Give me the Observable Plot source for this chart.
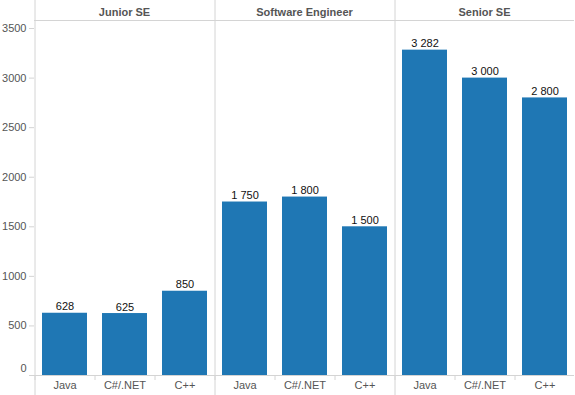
<!DOCTYPE html>
<html><head><meta charset="utf-8">
<script src="https://cdn.jsdelivr.net/npm/d3@7"></script>
<script src="https://cdn.jsdelivr.net/npm/@observablehq/plot@0.6"></script>
<style>body{margin:0;background:#fff}</style>
</head><body><div id="chart"></div>
<script>
const groups = ["Junior SE", "Software Engineer", "Senior SE"];
const languages = ["Java", "C#/.NET", "C++"];
const juniorValues = [628, 625, 850];
const engineerValues = [1750, 1800, 1500];
const seniorValues = [3282, 3000, 2800];
const yTicks = [0, 500, 1000, 1500, 2000, 2500, 3000, 3500];

const data = [];
[juniorValues, engineerValues, seniorValues].forEach((vals, gi) =>
  vals.forEach((v, li) => data.push({group: groups[gi], lang: languages[li], value: v})));
const panels = groups.map(g => ({group: g}));

const W = 575, H = 395, mt = 20, mb = 20, ml = 34, mr = 1;
const yMax = 3581;
const pxPerUnit = (H - mt - mb) / yMax;
const yTopExt = yMax + mt / pxPerUnit;
const yBotExt = -mb / pxPerUnit;
const grid = "#d4d4d4";
const textCol = "#555";
const fmt = n => String(n).replace(/\B(?=(\d{3})+(?!\d))/g, " ");

const chart = Plot.plot({
  width: W, height: H,
  marginLeft: ml, marginRight: mr, marginTop: mt, marginBottom: mb,
  style: {fontFamily: "'Liberation Sans', Arial, sans-serif", fontSize: "11px", background: "#fff"},
  fx: {domain: groups, padding: 0, label: null},
  x: {domain: languages, paddingInner: 0.25, paddingOuter: 0.125, label: null},
  y: {domain: [0, yMax], label: null},
  marks: [
    Plot.ruleY([0, yMax], {stroke: grid}),
    Plot.ruleX(panels, {fx: "group", x: () => "Java", dx: -30, y1: yTopExt, y2: yBotExt, stroke: grid}),
    Plot.barY(data, {fx: "group", x: "lang", y: "value", fill: "#1f77b4"}),
    Plot.text(data, {fx: "group", x: "lang", y: "value", text: d => fmt(d.value), lineAnchor: "bottom", dy: -3, fill: "#111", fontSize: 11}),
    Plot.axisY(yTicks, {tickSize: 5, stroke: grid, fill: textCol, tickPadding: 3, label: null, fontSize: 11, tickFormat: t => t === 0 ? "" : String(t)}),
    Plot.axisY([0], {tickSize: 0, tickPadding: 8, dy: -7, fill: textCol, label: null, fontSize: 11, tickFormat: t => String(t)}),
    Plot.axisX({anchor: "bottom", tickSize: 0, tickPadding: 6, fill: textCol, label: null, fontSize: 11}),
    Plot.axisX({anchor: "bottom", tickSize: 5, dx: -30, stroke: grid, label: null, tickFormat: () => ""}),
    Plot.axisFx({anchor: "top", tickSize: 0, tickPadding: 5, label: null, fontWeight: "bold", fill: textCol, fontSize: 11})
  ]
});
document.getElementById("chart").appendChild(chart);
</script>
</body></html>
